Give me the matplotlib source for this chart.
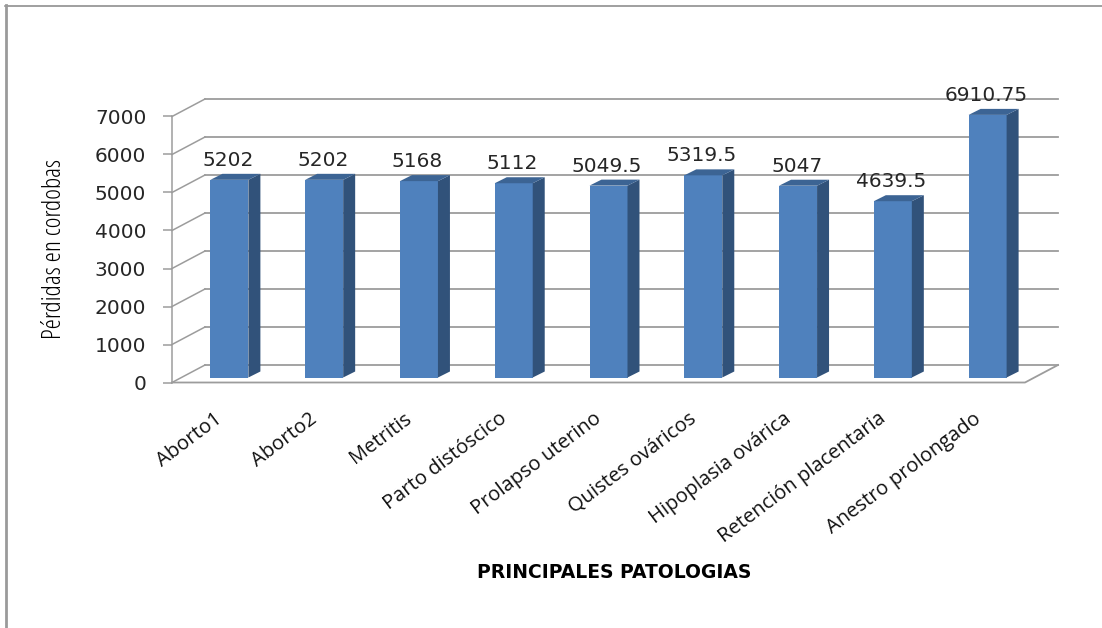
#!/usr/bin/python
# -*- coding: UTF-8 -*-
import numpy as np
from matplotlib import pyplot as plt
from matplotlib.lines import Line2D
from matplotlib.patches import Polygon
from matplotlib.transforms import ScaledTranslation

categorias = ['Aborto1', 'Aborto2', 'Metritis', 'Parto distóscico', 'Prolapso uterino',
	'Quistes ováricos', 'Hipoplasia ovárica', 'Retención placentaria', 'Anestro prolongado']
perdidas = [5202, 5202, 5168, 5112, 5049.5, 5319.5, 5047, 4639.5, 6910.75]
etiquetas = ['5202', '5202', '5168', '5112', '5049.5', '5319.5', '5047', '4639.5', '6910.75']
marcas_y = [0, 1000, 2000, 3000, 4000, 5000, 6000, 7000]

W, H = 1102, 628
X0, X1, Y0, Y1 = 172, 1025, 382.5, 116.5

fig = plt.figure(figsize=(W / 100, H / 100), dpi=100)
ax = fig.add_axes([X0 / W, 1 - Y0 / H, (X1 - X0) / W, (Y0 - Y1) / H])
ax.set_xlim(-0.5, 8.5)
ax.set_ylim(0, 7000)
ax.patch.set_alpha(0)
for s in ['top', 'right', 'bottom']:
	ax.spines[s].set_visible(False)
ax.spines['left'].set_color('#9c9c9c')
ax.spines['left'].set_linewidth(1.1)

# pixels to data units
px = 9 / (X1 - X0)
py = 7000 / (Y0 - Y1)
GRIS = '#9c9c9c'

# walls of the 3D box
for v in marcas_y:
	ax.plot([-0.5, -0.5 + 33 * px], [v, v + 17.5 * py], color=GRIS, lw=1.1, clip_on=False, zorder=1)
	ax.plot([-0.5 + 33 * px, 8.5 + 33 * px], [v + 17.5 * py] * 2, color=GRIS, lw=1.3, clip_on=False, zorder=1)
ax.plot([-0.5, 8.5, 8.5 + 33 * px], [0, 0, 17.5 * py], color=GRIS, lw=1.3, clip_on=False, zorder=1)

# bars: front face, side and top
x_barras = np.arange(len(perdidas)) + 10 * px
ancho = 38 * px
base = 5 * py
barras = ax.bar(x_barras, perdidas, width=ancho, bottom=base, color='#4F81BD', zorder=3)
for b in barras:
	b.set_clip_on(False)
for x, v in zip(x_barras, perdidas):
	der = x + ancho / 2
	izq = x - ancho / 2
	arriba = v + base
	ax.add_patch(Polygon([(der, base), (der + 12 * px, base + 6 * py), (der + 12 * px, arriba + 6 * py), (der, arriba)],
		color='#31527A', lw=0, zorder=3, clip_on=False))
	ax.add_patch(Polygon([(izq, arriba), (izq + 12 * px, arriba + 6 * py), (der + 12 * px, arriba + 6 * py), (der, arriba)],
		color='#3C6494', lw=0, zorder=3, clip_on=False))

for x, v, t in zip(x_barras, perdidas, etiquetas):
	ax.annotate(t, xy=(x, v + base), xytext=(-1, 14 * 0.72), textcoords='offset points',
		ha='center', va='baseline', fontsize=14.5, color='#262626', zorder=4, annotation_clip=False)

ax.set_yticks(marcas_y)
ax.set_yticklabels([str(v) for v in marcas_y], fontsize=14.5, color='#262626')
ax.tick_params(axis='y', length=6.5, width=1.1, color=GRIS, pad=12)

ax.set_xticks(np.arange(len(categorias)))
ax.set_xticklabels(categorias, rotation=37, ha='right', rotation_mode='anchor',
	fontsize=14.5, family='Open Sans', color='#111111')
ax.tick_params(axis='x', length=0, pad=19)
# labels sit a little left of the tick position
corrimiento = ScaledTranslation(-5 / 100, 0, fig.dpi_scale_trans)
for t in ax.get_xticklabels():
	t.set_transform(t.get_transform() + corrimiento)

fig.text(55 / W, 1 - 249 / H, 'Pérdidas en cordobas', rotation=90, ha='center', va='center',
	fontsize=18.5, family='Open Sans', stretch='condensed', color='black')
fig.text(614 / W, 1 - 573 / H, 'PRINCIPALES PATOLOGIAS', ha='center', va='center',
	fontsize=13.5, family='DejaVu Sans', weight='bold', color='black')

# picture frame
fig.add_artist(Line2D([5 / W, 1], [1 - 5.5 / H, 1 - 5.5 / H], color='#858585', lw=1.1))
fig.add_artist(Line2D([6 / W, 6 / W], [0, 1 - 5 / H], color='#9a9a9a', lw=2))

fig.savefig('out.png', dpi=100)
